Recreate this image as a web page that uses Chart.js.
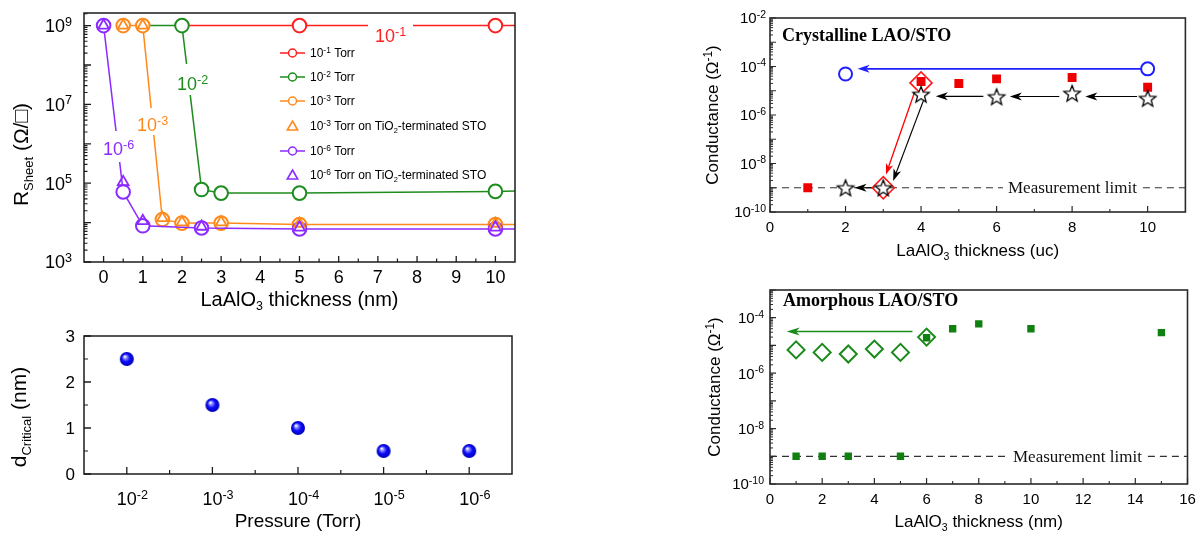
<!DOCTYPE html>
<html>
<head>
<meta charset="utf-8">
<script src="https://cdn.jsdelivr.net/npm/chart.js@4.4.0/dist/chart.umd.min.js"></script>
<style>
  html, body { margin: 0; padding: 0; background: #fff; }
  #wrap { position: relative; width: 1198px; height: 533px; overflow: hidden; background: #fff; }
  #wrap canvas { position: absolute; left: 0; top: 0; pointer-events: none; }
</style>
</head>
<body>
<div id="wrap">
  <canvas id="cA" width="1198" height="533" style="width:1198px;height:533px"></canvas>
  <canvas id="cC" width="1198" height="533" style="width:1198px;height:533px"></canvas>
  <canvas id="cB" width="1198" height="533" style="width:1198px;height:533px"></canvas>
  <canvas id="cD" width="1198" height="533" style="width:1198px;height:533px"></canvas>
</div>
<script>
// ---------------- data ----------------
// (a) sheet resistance vs LaAlO3 thickness (nm); mk = 1 where a measured marker is shown
const thk01 = [2, 5, 10, 10.5];
const rs01  = [1e9, 1e9, 1e9, 1e9];
const mk01  = [0, 1, 1, 0];
const thk02 = [1, 2, 2.5, 3, 5, 10, 10.5];
const rs02  = [1e9, 1e9, 6.9e4, 5.6e4, 5.6e4, 6.2e4, 6.3e4];
const mk02  = [0, 1, 1, 1, 1, 1, 0];
const thk03 = [0.5, 1, 1.5, 2, 3, 5, 10, 10.5];
const rs03  = [1e9, 1e9, 1.2e4, 9.7e3, 9.7e3, 8.9e3, 8.9e3, 8.9e3];
const mk03  = [1, 1, 1, 1, 1, 1, 1, 0];
const thk03Ti = [0.5, 1, 1.5, 2, 3, 5, 10];
const rs03Ti  = [1e9, 1e9, 1.3e4, 1.02e4, 1.02e4, 9.4e3, 9.4e3];
const thk06 = [0, 0.5, 1, 2.5, 5, 10, 10.5];
const rs06  = [1e9, 6.0e4, 8.3e3, 7.3e3, 6.9e3, 6.9e3, 6.9e3];
const mk06  = [1, 1, 1, 1, 1, 1, 0];
const thk06Ti = [0, 0.5, 1, 2.5, 5, 10];
const rs06Ti  = [1e9, 1.07e5, 1.1e4, 7.9e3, 7.5e3, 7.5e3];
const thkTicks = [0, 1, 2, 3, 4, 5, 6, 7, 8, 9, 10];
const rsTickExp = [3, 5, 7, 9];

// (c) critical thickness vs growth pressure, pressure = 10^-n Torr
const pressureExp = [2, 3, 4, 5, 6];
const dCritical = [2.5, 1.5, 1.0, 0.5, 0.5];
const dTicks = [0, 1, 2, 3];

// (b) crystalline LAO/STO conductance vs thickness (uc)
const ucRed = [1, 4, 5, 6, 8, 10];
const gRed  = [1e-9, 2.4e-5, 2.0e-5, 3.1e-5, 3.5e-5, 1.4e-5];
const ucDia = [3, 4];
const gDia  = [1e-9, 2.1e-5];
const ucStar = [2, 3, 4, 6, 8, 10];
const gStar  = [1e-9, 1e-9, 7.2e-6, 5.7e-6, 7.9e-6, 4.9e-6];
const ucBlue = [2, 10];
const gBlue  = [4.9e-5, 8e-5];
// arrows as [x0, G0, x1, G1]
const arrowsBlue  = [[10, 8e-5, 2.32, 8e-5]];
const arrowsBlack = [[9.72, 5.8e-6, 8.35, 5.8e-6], [7.66, 5.8e-6, 6.35, 5.8e-6],
                     [5.65, 5.9e-6, 4.39, 5.9e-6], [4.07, 4.2e-6, 3.26, 1.9e-9],
                     [2.77, 1e-9, 2.24, 1e-9]];
const arrowsRed   = [[3.83, 8.9e-6, 3.07, 3.5e-9]];
const ucTicks = [0, 2, 4, 6, 8, 10];
const gTickExpB = [-10, -8, -6, -4, -2];

// (d) amorphous LAO/STO conductance vs thickness (nm)
const nmSq = [1, 2, 3, 5, 6, 7, 8, 10, 15];
const gSq  = [1e-9, 1e-9, 1e-9, 1e-9, 1.9e-5, 4.0e-5, 6.0e-5, 4.0e-5, 2.9e-5];
const nmDia = [1, 2, 3, 4, 5, 6];
const gDiaD = [6.9e-6, 5.6e-6, 4.9e-6, 7.4e-6, 5.6e-6, 2.0e-5];
const arrowsGreen = [[5.46, 3.2e-5, 0.64, 3.2e-5]];
const nmTicks = [0, 2, 4, 6, 8, 10, 12, 14, 16];
const gTickExpD = [-10, -8, -6, -4];

const measurementLimit = 1e-9;

// ---------------- styling helpers ----------------
const SANS = '"Liberation Sans", Arial, "DejaVu Sans", sans-serif';
const SERIF = '"Liberation Serif", "Times New Roman", serif';
const RED = '#ff1f1f', GREEN = '#1e8c1e', ORANGE = '#ff8a1c', PURPLE = '#8c2bff';
const AXIS = '#1c1c1c';

Chart.defaults.font.family = SANS;

function pts(xs, ys) { return xs.map((x, i) => ({ x: x, y: ys[i] })); }

// split "10^{-3} Torr on TiO_{2}" into normal / super / sub runs
function parseRich(str) {
  const runs = []; let buf = ''; let i = 0;
  while (i < str.length) {
    const c = str[i];
    if ((c === '^' || c === '_') && str[i + 1] === '{') {
      if (buf) { runs.push({ t: buf, k: 0 }); buf = ''; }
      const end = str.indexOf('}', i);
      runs.push({ t: str.slice(i + 2, end), k: c === '^' ? 1 : -1 });
      i = end + 1;
    } else { buf += c; i++; }
  }
  if (buf) runs.push({ t: buf, k: 0 });
  return runs;
}

function drawRich(ctx, str, x, y, o) {
  const s = o.size, fam = o.family || SANS, w = o.weight || 'normal';
  const runs = parseRich(str);
  const font = k => w + ' ' + (k === 0 ? s : (k > 0 ? s * 0.7 : s * 0.62)) + 'px ' + fam;
  const widths = runs.map(r => { ctx.font = font(r.k); return ctx.measureText(r.t).width; });
  const total = widths.reduce((a, b) => a + b, 0);
  let start = 0;
  if (o.align === 'center') start = -total / 2;
  else if (o.align === 'right') start = -total;
  else if (o.align === 'firstCenter') start = -widths[0] / 2;
  ctx.save();
  ctx.translate(x, y);
  if (o.rotate) ctx.rotate(o.rotate);
  ctx.fillStyle = o.color || '#000';
  ctx.textAlign = 'left';
  ctx.textBaseline = 'alphabetic';
  let cx = start;
  runs.forEach((r, i) => {
    ctx.font = font(r.k);
    const dy = r.k > 0 ? -s * 0.36 : (r.k < 0 ? s * 0.22 : 0);
    ctx.fillText(r.t, cx, dy);
    cx += widths[i];
  });
  ctx.restore();
  return total;
}

function frame(ctx, a, color, lw) {
  ctx.save(); ctx.strokeStyle = color; ctx.lineWidth = lw;
  ctx.strokeRect(a.left, a.top, a.right - a.left, a.bottom - a.top);
  ctx.restore();
}

function ticks(ctx, chart, axis, values, len, color, lw) {
  const a = chart.chartArea, sc = chart.scales[axis];
  ctx.save(); ctx.strokeStyle = color; ctx.lineWidth = lw; ctx.beginPath();
  values.forEach(v => {
    const p = sc.getPixelForValue(v);
    if (axis === 'x') { ctx.moveTo(p, a.bottom); ctx.lineTo(p, a.bottom - len); }
    else { ctx.moveTo(a.left, p); ctx.lineTo(a.left + len, p); }
  });
  ctx.stroke(); ctx.restore();
}

function decades(lo, hi) { const o = []; for (let d = lo; d <= hi; d++) o.push(Math.pow(10, d)); return o; }
function logMinors(lo, hi, max) {
  const o = [];
  for (let d = lo; d <= hi; d++) for (let m = 2; m <= 9; m++) { const v = m * Math.pow(10, d); if (v < max) o.push(v); }
  return o;
}
function halves(vals) { return vals.slice(1).map((v, i) => (v + vals[i]) / 2); }

function arrow(ctx, chart, seg, color, lw, L, W) {
  const xs = chart.scales.x, ys = chart.scales.y;
  const x1 = xs.getPixelForValue(seg[0]), y1 = ys.getPixelForValue(seg[1]);
  const x2 = xs.getPixelForValue(seg[2]), y2 = ys.getPixelForValue(seg[3]);
  const ang = Math.atan2(y2 - y1, x2 - x1), ca = Math.cos(ang), sa = Math.sin(ang);
  const bx = x2 - L * ca, by = y2 - L * sa;
  const nx = x2 - L * 0.72 * ca, ny = y2 - L * 0.72 * sa;
  ctx.save();
  ctx.strokeStyle = color; ctx.fillStyle = color; ctx.lineWidth = lw;
  ctx.beginPath(); ctx.moveTo(x1, y1); ctx.lineTo(nx, ny); ctx.stroke();
  ctx.beginPath();
  ctx.moveTo(x2, y2);
  ctx.lineTo(bx - W * sa, by + W * ca);
  ctx.lineTo(nx, ny);
  ctx.lineTo(bx + W * sa, by - W * ca);
  ctx.closePath(); ctx.fill();
  ctx.restore();
}

// dashed measurement-limit line with its caption sitting in a gap
function limitLine(ctx, chart, textLeft, size) {
  const a = chart.chartArea, y = chart.scales.y.getPixelForValue(measurementLimit);
  ctx.save();
  ctx.font = size + 'px ' + SERIF;
  const tw = ctx.measureText('Measurement limit').width;
  ctx.strokeStyle = '#333'; ctx.lineWidth = 1.2; ctx.setLineDash([7, 5]);
  ctx.beginPath();
  ctx.moveTo(a.left, y); ctx.lineTo(textLeft - 5, y);
  ctx.moveTo(textLeft + tw + 6, y); ctx.lineTo(a.right, y);
  ctx.stroke();
  ctx.setLineDash([]);
  ctx.fillStyle = '#111'; ctx.textBaseline = 'alphabetic';
  ctx.fillText('Measurement limit', textLeft, y + 0.33 * size);
  ctx.restore();
}

function makeSphere(r) {
  const c = document.createElement('canvas');
  const s = Math.ceil(2 * r + 2); c.width = s; c.height = s;
  const g = c.getContext('2d'), cx = s / 2, cy = s / 2;
  const grad = g.createRadialGradient(cx - r * 0.3, cy - r * 0.35, r * 0.05, cx, cy, r);
  grad.addColorStop(0, '#ffffff');
  grad.addColorStop(0.22, '#8a8aff');
  grad.addColorStop(0.55, '#0c0cff');
  grad.addColorStop(1, '#0000b4');
  g.fillStyle = grad; g.beginPath(); g.arc(cx, cy, r, 0, Math.PI * 2); g.fill();
  return c;
}

function makeStar(R, ratio, lw) {
  const c = document.createElement('canvas');
  const s = Math.ceil(2 * R + 2 * lw + 2); c.width = s; c.height = s;
  const g = c.getContext('2d'), cx = s / 2, cy = s / 2 + R * 0.1;
  g.beginPath();
  for (let i = 0; i < 10; i++) {
    const ang = -Math.PI / 2 + i * Math.PI / 5, rr = i % 2 ? R * ratio : R;
    const px = cx + rr * Math.cos(ang), py = cy + rr * Math.sin(ang);
    if (i === 0) g.moveTo(px, py); else g.lineTo(px, py);
  }
  g.closePath();
  g.fillStyle = '#fff'; g.fill();
  g.lineJoin = 'miter'; g.strokeStyle = '#000'; g.lineWidth = lw; g.stroke();
  return c;
}

function mkChart(id, pad, xs, ys, datasets, plugins) {
  return new Chart(document.getElementById(id), {
    type: 'scatter',
    data: { datasets: datasets },
    options: {
      responsive: false, maintainAspectRatio: false, animation: false, events: [],
      devicePixelRatio: 1,
      layout: { padding: pad },
      plugins: { legend: { display: false }, tooltip: { enabled: false } },
      scales: { x: Object.assign({ display: false }, xs), y: Object.assign({ display: false }, ys) }
    },
    plugins: plugins
  });
}

// ---------------- (a) R_sheet vs thickness ----------------
const lineDs = (label, xs, ys, mk, color) => ({
  label: label, data: pts(xs, ys), showLine: true, borderColor: color, borderWidth: 1.5,
  pointStyle: 'circle', pointRadius: mk.map(m => (m ? 6.8 : 0)), pointBorderColor: color,
  pointBackgroundColor: '#fff', pointBorderWidth: 2, tension: 0
});
const triDs = (label, xs, ys, color) => ({
  label: label, data: pts(xs, ys), showLine: false, pointStyle: 'triangle', pointRadius: 6.2,
  pointBorderColor: color, pointBackgroundColor: 'rgba(255,255,255,0)', pointBorderWidth: 1.8
});
const ds01 = lineDs('10^{-1} Torr', thk01, rs01, mk01, RED);
const ds02 = lineDs('10^{-2} Torr', thk02, rs02, mk02, GREEN);
const ds03 = lineDs('10^{-3} Torr', thk03, rs03, mk03, ORANGE);
const ds03Ti = triDs('10^{-3} Torr on TiO_{2}-terminated STO', thk03Ti, rs03Ti, ORANGE);
const ds06 = lineDs('10^{-6} Torr', thk06, rs06, mk06, PURPLE);
const ds06Ti = triDs('10^{-6} Torr on TiO_{2}-terminated STO', thk06Ti, rs06Ti, PURPLE);
const legendA = [ds01, ds02, ds03, ds03Ti, ds06, ds06Ti];
const legendRowsY = [53, 77, 101, 126, 151, 175];

const decorA = {
  id: 'decorA',
  afterDatasetsDraw(chart) {
    const ctx = chart.ctx;
    // curve labels, each breaking its guide line
    const tags = [
      { t: '10^{-1}', c: RED, x: 375, y: 42, box: [368, 20, 45, 11] },
      { t: '10^{-2}', c: GREEN, x: 177, y: 90, box: [176, 64, 30, 31] },
      { t: '10^{-3}', c: ORANGE, x: 137, y: 131, box: [136, 108, 32, 27] },
      { t: '10^{-6}', c: PURPLE, x: 103, y: 155, box: [100, 131, 34, 31] }
    ];
    ctx.save(); ctx.fillStyle = '#fff';
    tags.forEach(g => ctx.fillRect(g.box[0], g.box[1], g.box[2], g.box[3]));
    ctx.restore();
    tags.forEach(g => drawRich(ctx, g.t, g.x, g.y, { size: 18, color: g.c }));
  },
  afterDraw(chart) {
    const ctx = chart.ctx, a = chart.chartArea, xs = chart.scales.x, ys = chart.scales.y;
    frame(ctx, a, AXIS, 1.5);
    ticks(ctx, chart, 'x', thkTicks, 6, AXIS, 1.3);
    ticks(ctx, chart, 'x', halves(thkTicks), 3.5, AXIS, 1.2);
    ticks(ctx, chart, 'y', decades(3, 9), 7, AXIS, 1.3);
    ticks(ctx, chart, 'y', logMinors(3, 9, ys.max), 3.5, AXIS, 1.1);
    thkTicks.forEach(v => drawRich(ctx, String(v), xs.getPixelForValue(v), 283, { size: 18, align: 'center' }));
    rsTickExp.forEach(e => drawRich(ctx, '10^{' + e + '}', 72, ys.getPixelForValue(Math.pow(10, e)) + 0.358 * 18, { size: 18, align: 'right' }));
    drawRich(ctx, 'LaAlO_{3} thickness (nm)', (a.left + a.right) / 2, 306, { size: 20, align: 'center' });
    drawRich(ctx, 'R_{Sheet} (Ω/□)', 28, 154.5, { size: 21, align: 'center', rotate: -Math.PI / 2 });
    // legend
    legendA.forEach((d, i) => {
      const y = legendRowsY[i], c = d.pointBorderColor;
      ctx.save(); ctx.strokeStyle = c; ctx.lineWidth = 1.5;
      if (d.showLine) {
        ctx.beginPath(); ctx.moveTo(280, y); ctx.lineTo(305, y); ctx.stroke();
        ctx.fillStyle = '#fff'; ctx.beginPath(); ctx.arc(292.5, y, 4, 0, Math.PI * 2); ctx.fill(); ctx.stroke();
      } else {
        const r = 6;
        ctx.lineWidth = 1.6; ctx.beginPath();
        for (let k = 0; k < 3; k++) {
          const ang = -Math.PI / 2 + k * 2 * Math.PI / 3;
          const px = 292.5 + r * Math.cos(ang), py = y + 1 + r * Math.sin(ang);
          if (k === 0) ctx.moveTo(px, py); else ctx.lineTo(px, py);
        }
        ctx.closePath(); ctx.stroke();
      }
      ctx.restore();
      drawRich(ctx, d.label, 310, y + 4.3, { size: 12 });
    });
  }
};

mkChart('cA', { left: 84, top: 13, right: 1198 - 515, bottom: 533 - 262 },
  { type: 'linear', min: -0.5, max: 10.5 },
  { type: 'logarithmic', min: 1e3, max: Math.pow(10, 9.32) },
  [ds06Ti, ds03Ti, ds06, ds03, ds02, ds01], [decorA]);

// ---------------- (c) critical thickness vs pressure ----------------
const sphere = makeSphere(7);
const decorC = {
  id: 'decorC',
  afterDraw(chart) {
    const ctx = chart.ctx, a = chart.chartArea, xs = chart.scales.x, ys = chart.scales.y;
    frame(ctx, a, AXIS, 1.5);
    ticks(ctx, chart, 'x', pressureExp, 7, AXIS, 1.3);
    ticks(ctx, chart, 'x', halves(pressureExp), 4, AXIS, 1.2);
    ticks(ctx, chart, 'y', dTicks, 7, AXIS, 1.3);
    ticks(ctx, chart, 'y', halves(dTicks), 4, AXIS, 1.2);
    pressureExp.forEach(n => drawRich(ctx, '10^{-' + n + '}', xs.getPixelForValue(n), 505, { size: 18, align: 'firstCenter' }));
    dTicks.forEach(v => drawRich(ctx, String(v), 75, ys.getPixelForValue(v) + 0.358 * 17, { size: 17, align: 'right' }));
    drawRich(ctx, 'Pressure (Torr)', (a.left + a.right) / 2, 527, { size: 19, align: 'center' });
    drawRich(ctx, 'd_{Critical} (nm)', 26, 417, { size: 21, align: 'center', rotate: -Math.PI / 2 });
  }
};
mkChart('cC', { left: 84, top: 336, right: 1198 - 512, bottom: 533 - 474 },
  { type: 'linear', min: 1.5, max: 6.5 },
  { type: 'linear', min: 0, max: 3 },
  [{ label: 'd_Critical', data: pts(pressureExp, dCritical), showLine: false, pointStyle: sphere, pointRadius: 7 }],
  [decorC]);

// ---------------- (b) crystalline LAO/STO ----------------
const star = makeStar(8.6, 0.43, 1.3);
const decorB = {
  id: 'decorB',
  beforeDatasetsDraw(chart) {
    const ctx = chart.ctx;
    limitLine(ctx, chart, 1008, 17);
    arrowsBlue.forEach(s => arrow(ctx, chart, s, '#1f1fff', 1.6, 12, 4));
    arrowsBlack.forEach(s => arrow(ctx, chart, s, '#000', 1.2, 12, 4));
    arrowsRed.forEach(s => arrow(ctx, chart, s, '#ff0000', 1.3, 11, 3.8));
  },
  afterDraw(chart) {
    const ctx = chart.ctx, a = chart.chartArea, xs = chart.scales.x, ys = chart.scales.y;
    frame(ctx, a, '#2a2a2a', 1.6);
    ticks(ctx, chart, 'x', ucTicks, 6, '#2a2a2a', 1.2);
    ticks(ctx, chart, 'x', halves(ucTicks), 3, '#2a2a2a', 1.1);
    ticks(ctx, chart, 'y', decades(-10, -2), 6, '#2a2a2a', 1.2);
    ticks(ctx, chart, 'y', logMinors(-10, -3, ys.max), 3, '#2a2a2a', 1);
    ucTicks.forEach(v => drawRich(ctx, String(v), xs.getPixelForValue(v), 232, { size: 15, align: 'center' }));
    gTickExpB.forEach(e => drawRich(ctx, '10^{' + e + '}', 766, ys.getPixelForValue(Math.pow(10, e)) + 0.358 * 15, { size: 15, align: 'right' }));
    drawRich(ctx, 'LaAlO_{3} thickness (uc)', (a.left + a.right) / 2, 256, { size: 17, align: 'center' });
    drawRich(ctx, 'Conductance (Ω^{-1})', 718, (a.top + a.bottom) / 2, { size: 17, align: 'center', rotate: -Math.PI / 2 });
    drawRich(ctx, 'Crystalline LAO/STO', 782, 40.5, { size: 18, family: SERIF, weight: 'bold' });
  }
};
mkChart('cB', { left: 770, top: 18, right: 1198 - 1188, bottom: 533 - 212 },
  { type: 'linear', min: 0, max: 11 },
  { type: 'logarithmic', min: 1e-10, max: 1e-2 },
  [
    { label: 'stars', data: pts(ucStar, gStar), showLine: false, pointStyle: star, pointRadius: 9 },
    { label: 'diamonds', data: pts(ucDia, gDia), showLine: false, pointStyle: 'rectRot', pointRadius: 11,
      pointBorderColor: '#ff1a1a', pointBackgroundColor: 'rgba(255,255,255,0)', pointBorderWidth: 1.6 },
    { label: 'squares', data: pts(ucRed, gRed), showLine: false, pointStyle: 'rect', pointRadius: 6.3,
      pointBorderWidth: 0, pointBorderColor: '#ee0000', pointBackgroundColor: '#ee0000' },
    { label: 'circles', data: pts(ucBlue, gBlue), showLine: false, pointStyle: 'circle', pointRadius: 6.5,
      pointBorderColor: '#1f1fff', pointBackgroundColor: '#fff', pointBorderWidth: 2 }
  ], [decorB]);

// ---------------- (d) amorphous LAO/STO ----------------
const decorD = {
  id: 'decorD',
  beforeDatasetsDraw(chart) {
    const ctx = chart.ctx;
    limitLine(ctx, chart, 1013, 17);
    arrowsGreen.forEach(s => arrow(ctx, chart, s, '#1a8a1a', 1.6, 13, 4));
  },
  afterDraw(chart) {
    const ctx = chart.ctx, a = chart.chartArea, xs = chart.scales.x, ys = chart.scales.y;
    frame(ctx, a, '#2a2a2a', 1.6);
    ticks(ctx, chart, 'x', nmTicks, 6, '#2a2a2a', 1.2);
    ticks(ctx, chart, 'x', halves(nmTicks), 3, '#2a2a2a', 1.1);
    ticks(ctx, chart, 'y', decades(-10, -3), 6, '#2a2a2a', 1.2);
    ticks(ctx, chart, 'y', logMinors(-10, -4, ys.max), 3, '#2a2a2a', 1);
    nmTicks.forEach(v => drawRich(ctx, String(v), xs.getPixelForValue(v), 504, { size: 15, align: 'center' }));
    gTickExpD.forEach(e => drawRich(ctx, '10^{' + e + '}', 764, ys.getPixelForValue(Math.pow(10, e)) + 0.358 * 15, { size: 15, align: 'right' }));
    drawRich(ctx, 'LaAlO_{3} thickness (nm)', (a.left + a.right) / 2, 527, { size: 17, align: 'center' });
    drawRich(ctx, 'Conductance (Ω^{-1})', 720, (a.top + a.bottom) / 2, { size: 17, align: 'center', rotate: -Math.PI / 2 });
    drawRich(ctx, 'Amorphous LAO/STO', 783, 306, { size: 18, family: SERIF, weight: 'bold' });
  }
};
mkChart('cD', { left: 770, top: 290, right: 1198 - 1188, bottom: 533 - 484 },
  { type: 'linear', min: 0, max: 16 },
  { type: 'logarithmic', min: 1e-10, max: 1e-3 },
  [
    { label: 'diamonds', data: pts(nmDia, gDiaD), showLine: false, pointStyle: 'rectRot', pointRadius: 8.5,
      pointBorderColor: '#1a8a1a', pointBackgroundColor: 'rgba(255,255,255,0)', pointBorderWidth: 2 },
    { label: 'squares', data: pts(nmSq, gSq), showLine: false, pointStyle: 'rect', pointRadius: 5.2,
      pointBorderWidth: 0, pointBorderColor: '#108010', pointBackgroundColor: '#108010' }
  ], [decorD]);
</script>
</body>
</html>
